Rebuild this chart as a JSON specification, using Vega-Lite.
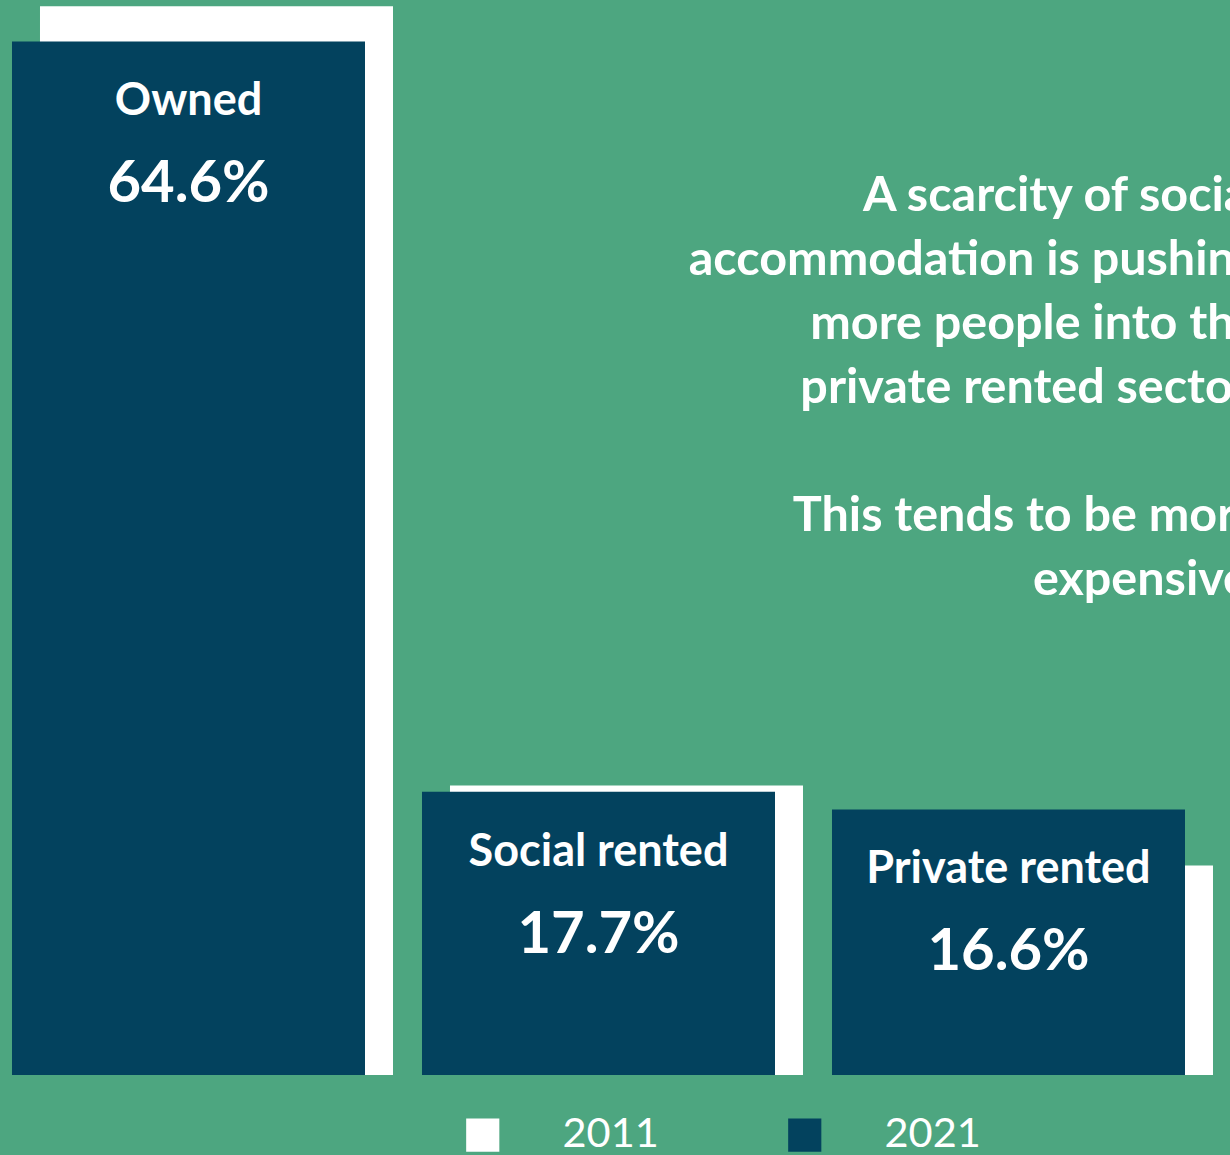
{
  "$schema": "https://vega.github.io/schema/vega-lite/v6.json",
  "width": 1240,
  "height": 1075,
  "padding": 0,
  "background": "#4DA680",
  "config": {"view": {"stroke": null}, "font": "Lato"},
  "datasets": {
    "tenure": [
      {"tenure": "Owned", "year": "2011", "share": 0.668},
      {"tenure": "Owned", "year": "2021", "share": 0.646},
      {"tenure": "Social rented", "year": "2011", "share": 0.181},
      {"tenure": "Social rented", "year": "2021", "share": 0.177},
      {"tenure": "Private rented", "year": "2011", "share": 0.131},
      {"tenure": "Private rented", "year": "2021", "share": 0.166}
    ],
    "note": [
      {"tenure": "Private rented", "part": 1, "note": "A scarcity of social\naccommodation is pushing\nmore people into the\nprivate rented sector."},
      {"tenure": "Private rented", "part": 2, "note": "This tends to be more\nexpensive."}
    ]
  },
  "layer": [
    {
      "data": {"name": "tenure"},
      "transform": [{"filter": "datum.year === '2011'"}],
      "mark": {"type": "bar", "xOffset": 28},
      "encoding": {
        "x": {
          "field": "tenure",
          "type": "nominal",
          "sort": ["Owned", "Social rented", "Private rented"],
          "scale": {"type": "band", "paddingInner": 0.139, "paddingOuter": 0.0817, "align": 0.179},
          "axis": null
        },
        "y": {
          "field": "share",
          "type": "quantitative",
          "scale": {"domain": [0, 0.671875], "nice": false, "zero": true},
          "axis": null
        },
        "color": {
          "field": "year",
          "type": "nominal",
          "scale": {"domain": ["2011", "2021"], "range": ["#FFFFFF", "#03425E"]},
          "legend": {
            "orient": "none",
            "legendX": 462,
            "legendY": 1114,
            "direction": "horizontal",
            "title": null,
            "padding": 0,
            "symbolType": "square",
            "symbolSize": 1100,
            "symbolStrokeWidth": 0,
            "symbolOpacity": 1,
            "labelFontSize": 41.5,
            "labelFont": "Lato",
            "labelColor": "#FFFFFF",
            "labelOffset": 59,
            "columnPadding": 125
          }
        }
      }
    },
    {
      "data": {"name": "tenure"},
      "transform": [{"filter": "datum.year === '2021'"}],
      "mark": {"type": "bar"},
      "encoding": {
        "x": {"field": "tenure", "type": "nominal", "sort": ["Owned", "Social rented", "Private rented"]},
        "y": {"field": "share", "type": "quantitative"},
        "color": {"field": "year", "type": "nominal"}
      }
    },
    {
      "data": {"name": "tenure"},
      "transform": [{"filter": "datum.year === '2021'"}],
      "mark": {"type": "text", "dy": 60, "baseline": "middle", "align": "center", "fontSize": 45, "fontWeight": "bold", "color": "#FFFFFF", "font": "Lato"},
      "encoding": {
        "x": {"field": "tenure", "type": "nominal", "sort": ["Owned", "Social rented", "Private rented"]},
        "y": {"field": "share", "type": "quantitative"},
        "text": {"field": "tenure", "type": "nominal"}
      }
    },
    {
      "data": {"name": "tenure"},
      "transform": [{"filter": "datum.year === '2021'"}],
      "mark": {"type": "text", "dy": 144, "baseline": "middle", "align": "center", "fontSize": 58, "fontWeight": "bold", "color": "#FFFFFF", "font": "Lato"},
      "encoding": {
        "x": {"field": "tenure", "type": "nominal", "sort": ["Owned", "Social rented", "Private rented"]},
        "y": {"field": "share", "type": "quantitative"},
        "text": {"field": "share", "type": "quantitative", "format": ".1%"}
      }
    },
    {
      "data": {"name": "note"},
      "transform": [{"filter": "datum.part === 1"}],
      "mark": {
        "type": "text",
        "align": "right",
        "baseline": "alphabetic",
        "dx": 252,
        "lineHeight": 64,
        "lineBreak": "\n",
        "fontSize": 48.5,
        "fontWeight": "bold",
        "color": "#FFFFFF",
        "font": "Lato"
      },
      "encoding": {
        "x": {"field": "tenure", "type": "nominal", "sort": ["Owned", "Social rented", "Private rented"]},
        "y": {"datum": 0.54, "type": "quantitative"},
        "text": {"field": "note", "type": "nominal"}
      }
    },
    {
      "data": {"name": "note"},
      "transform": [{"filter": "datum.part === 2"}],
      "mark": {
        "type": "text",
        "align": "right",
        "baseline": "alphabetic",
        "dx": 252,
        "lineHeight": 64,
        "lineBreak": "\n",
        "fontSize": 48.5,
        "fontWeight": "bold",
        "color": "#FFFFFF",
        "font": "Lato"
      },
      "encoding": {
        "x": {"field": "tenure", "type": "nominal", "sort": ["Owned", "Social rented", "Private rented"]},
        "y": {"datum": 0.34, "type": "quantitative"},
        "text": {"field": "note", "type": "nominal"}
      }
    }
  ]
}
